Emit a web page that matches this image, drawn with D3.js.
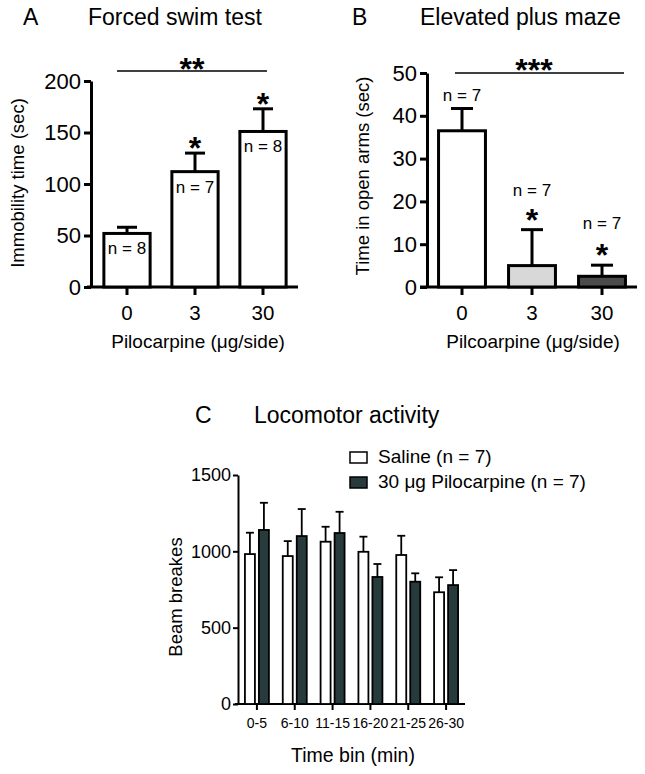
<!DOCTYPE html>
<html><head><meta charset="utf-8">
<script src="https://cdn.jsdelivr.net/npm/d3@7"></script>
<style>
body{margin:0;background:#fff}
svg{display:block}
text{font-family:"Liberation Sans",Arial,Helvetica,sans-serif;fill:#000}
</style>
</head><body>
<svg id="chart" width="645" height="774"></svg>
<script>
// ---------- data ----------
const doses = ["0", "3", "30"];
const fstMean = [52, 112, 151];
const fstSem = [6, 18, 22];
const fstN = ["n = 8", "n = 7", "n = 8"];
const fstTicks = [0, 50, 100, 150, 200];

const epmMean = [36.5, 5, 2.5];
const epmSem = [5.2, 8.4, 2.6];
const epmN = ["n = 7", "n = 7", "n = 7"];
const epmColors = ["#ffffff", "#d8d8d8", "#4b4b4b"];
const epmTicks = [0, 10, 20, 30, 40, 50];

const timeBins = ["0-5", "6-10", "11-15", "16-20", "21-25", "26-30"];
const groups = ["Saline (n = 7)", "30 \u03bcg Pilocarpine (n = 7)"];
const salineMean = [982, 969, 1063, 997, 976, 732];
const salineSem = [140, 98, 98, 99, 126, 98];
const piloMean = [1140, 1100, 1120, 832, 801, 779];
const piloSem = [178, 177, 139, 85, 55, 98];
const groupColors = ["#ffffff", "#273b3d"];
const locoTicks = [0, 500, 1000, 1500];

// ---------- helpers ----------
const svg = d3.select("#chart");
function txt(g, x, y, s, size, anchor) {
  return g.append("text").attr("x", x).attr("y", y).attr("font-size", size)
    .attr("text-anchor", anchor || "start").text(s);
}
function stars(g, cx, cy, s, size) {
  return g.append("text").attr("x", cx).attr("y", cy + 0.57 * size)
    .attr("font-size", size).attr("font-weight", "bold")
    .attr("text-anchor", "middle").text(s);
}
function styleAxis(ax, sw, fs) {
  ax.selectAll("path.domain").attr("stroke-width", sw).attr("stroke", "#000");
  ax.selectAll(".tick line").attr("stroke-width", sw).attr("stroke", "#000");
  ax.selectAll(".tick text").attr("font-size", fs)
    .attr("font-family", '"Liberation Sans",Arial,Helvetica,sans-serif').attr("fill", "#000");
}

// ---------- Panel A ----------
{
  const g = svg.append("g");
  const y = d3.scaleLinear().domain([0, 200]).range([287, 81]);
  const x = d3.scaleBand().domain(doses).range([93, 297]).paddingInner(0.32).paddingOuter(0.16);
  txt(g, 23, 25, "A", 23);
  txt(g, 88, 25, "Forced swim test", 23);
  g.append("text").attr("transform", "translate(24,183) rotate(-90)")
    .attr("text-anchor", "middle").attr("font-size", 18.5).text("Immobility time (sec)");

  const ya = g.append("g").attr("transform", "translate(91,0)")
    .call(d3.axisLeft(y).tickValues(fstTicks).tickFormat(d3.format("d")).tickSize(7).tickPadding(3).tickSizeOuter(0));
  styleAxis(ya, 3, 22);
  const xa = g.append("g").attr("transform", "translate(0,287)")
    .call(d3.axisBottom(x).tickSize(8).tickPadding(10).tickSizeOuter(0));
  xa.select("path.domain").remove();
  styleAxis(xa, 3, 20.5);
  g.append("line").attr("x1", 87).attr("x2", 298).attr("y1", 287).attr("y2", 287)
    .attr("stroke", "#000").attr("stroke-width", 3);

  doses.forEach((d, i) => {
    const cx = x(d) + x.bandwidth() / 2;
    const top = y(fstMean[i] + fstSem[i]);
    g.append("line").attr("x1", cx).attr("x2", cx).attr("y1", y(fstMean[i])).attr("y2", top)
      .attr("stroke", "#000").attr("stroke-width", 3);
    g.append("line").attr("x1", cx - 10).attr("x2", cx + 10).attr("y1", top).attr("y2", top)
      .attr("stroke", "#000").attr("stroke-width", 3);
    g.append("rect").attr("x", x(d)).attr("width", x.bandwidth())
      .attr("y", y(fstMean[i])).attr("height", y(0) - y(fstMean[i]))
      .attr("fill", "#fff").attr("stroke", "#000").attr("stroke-width", 3);
    txt(g, cx, y(fstMean[i]) + 21, fstN[i], 17, "middle");
    if (i > 0) stars(g, cx, top - 12, "*", 32);
  });
  g.append("line").attr("x1", 117).attr("x2", 267).attr("y1", 71).attr("y2", 71)
    .attr("stroke", "#000").attr("stroke-width", 1.5);
  stars(g, 192, 62, "**", 32);
  txt(g, 198, 348, "Pilocarpine (\u03bcg/side)", 19, "middle");
}

// ---------- Panel B ----------
{
  const g = svg.append("g");
  const y = d3.scaleLinear().domain([0, 50]).range([287, 73]);
  const x = d3.scaleBand().domain(doses).range([427, 637]).paddingInner(0.33).paddingOuter(0.165);
  txt(g, 352, 25, "B", 23);
  txt(g, 420, 25, "Elevated plus maze", 23);
  g.append("text").attr("transform", "translate(369,176) rotate(-90)")
    .attr("text-anchor", "middle").attr("font-size", 18.5).text("Time in open arms (sec)");

  const ya = g.append("g").attr("transform", "translate(427,0)")
    .call(d3.axisLeft(y).tickValues(epmTicks).tickFormat(d3.format("d")).tickSize(7).tickPadding(3).tickSizeOuter(0));
  styleAxis(ya, 3, 22);
  const xa = g.append("g").attr("transform", "translate(0,287)")
    .call(d3.axisBottom(x).tickSize(8).tickPadding(10).tickSizeOuter(0));
  xa.select("path.domain").remove();
  styleAxis(xa, 3, 20.5);
  g.append("line").attr("x1", 420).attr("x2", 637).attr("y1", 287).attr("y2", 287)
    .attr("stroke", "#000").attr("stroke-width", 3);

  const nOff = [14, 40, 42];
  doses.forEach((d, i) => {
    const cx = x(d) + x.bandwidth() / 2;
    const top = y(epmMean[i] + epmSem[i]);
    g.append("line").attr("x1", cx).attr("x2", cx).attr("y1", y(epmMean[i])).attr("y2", top)
      .attr("stroke", "#000").attr("stroke-width", 3);
    g.append("line").attr("x1", cx - 11).attr("x2", cx + 11).attr("y1", top).attr("y2", top)
      .attr("stroke", "#000").attr("stroke-width", 3);
    g.append("rect").attr("x", x(d)).attr("width", x.bandwidth())
      .attr("y", y(epmMean[i])).attr("height", y(0) - y(epmMean[i]))
      .attr("fill", epmColors[i]).attr("stroke", "#000").attr("stroke-width", 3);
    txt(g, cx, top - nOff[i] + 6, epmN[i], 17, "middle");
    if (i > 0) stars(g, cx, top - 17, "*", 32);
  });
  g.append("line").attr("x1", 455).attr("x2", 624).attr("y1", 73).attr("y2", 73)
    .attr("stroke", "#000").attr("stroke-width", 1.5);
  stars(g, 534, 63, "***", 32);
  txt(g, 533, 348, "Pilcoarpine (\u03bcg/side)", 19, "middle");
}

// ---------- Panel C ----------
{
  const g = svg.append("g");
  const y = d3.scaleLinear().domain([0, 1500]).range([704, 475]);
  const x = d3.scaleBand().domain(timeBins).range([238, 465]).paddingInner(0.366).paddingOuter(0.183);
  const xs = d3.scaleBand().domain(groups).range([0, x.bandwidth()]).paddingInner(0.2857);
  txt(g, 195, 423, "C", 23);
  txt(g, 254, 423, "Locomotor activity", 23);
  g.append("text").attr("transform", "translate(182,597) rotate(-90)")
    .attr("text-anchor", "middle").attr("font-size", 18.5).text("Beam breakes");

  const ya = g.append("g").attr("transform", "translate(238,0)")
    .call(d3.axisLeft(y).tickValues(locoTicks).tickFormat(d3.format("d")).tickSize(5).tickPadding(2).tickSizeOuter(0));
  styleAxis(ya, 2, 18);
  const xa = g.append("g").attr("transform", "translate(0,704)")
    .call(d3.axisBottom(x).tickSize(6).tickPadding(8).tickSizeOuter(0));
  xa.select("path.domain").remove();
  styleAxis(xa, 2, 14);
  g.append("line").attr("x1", 235).attr("x2", 465).attr("y1", 704).attr("y2", 704)
    .attr("stroke", "#000").attr("stroke-width", 2);

  const means = [salineMean, piloMean], sems = [salineSem, piloSem];
  timeBins.forEach((b, i) => {
    groups.forEach((gr, k) => {
      const bx = x(b) + xs(gr);
      const cx = bx + xs.bandwidth() / 2;
      const m = means[k][i], top = y(m + sems[k][i]);
      g.append("line").attr("x1", cx).attr("x2", cx).attr("y1", y(m)).attr("y2", top)
        .attr("stroke", "#000").attr("stroke-width", 1.8);
      g.append("line").attr("x1", cx - 4).attr("x2", cx + 4).attr("y1", top).attr("y2", top)
        .attr("stroke", "#000").attr("stroke-width", 1.8);
      g.append("rect").attr("x", bx).attr("width", xs.bandwidth())
        .attr("y", y(m)).attr("height", y(0) - y(m))
        .attr("fill", groupColors[k]).attr("stroke", "#000").attr("stroke-width", 1.8);
    });
  });

  groups.forEach((gr, k) => {
    const yy = 452 + k * 25;
    g.append("rect").attr("x", 350).attr("y", yy).attr("width", 17).attr("height", 11)
      .attr("fill", groupColors[k]).attr("stroke", "#000").attr("stroke-width", 1.5);
    txt(g, 378, yy + 11, gr, 19);
  });
  txt(g, 353, 762, "Time bin (min)", 19.5, "middle");
}
</script>
</body></html>
